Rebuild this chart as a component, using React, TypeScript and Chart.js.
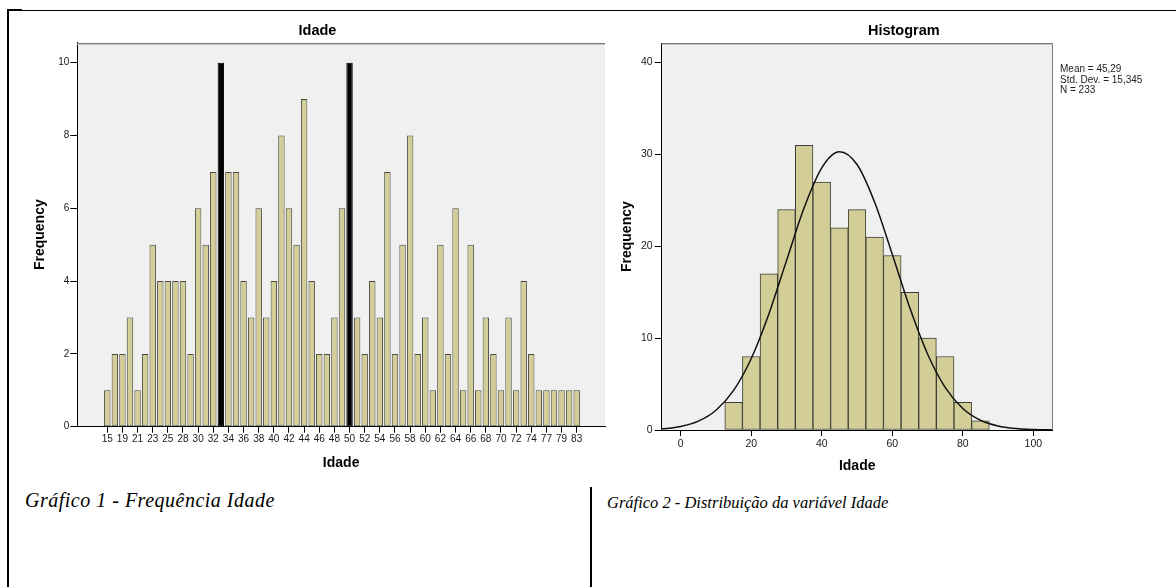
import React, { useEffect, useRef } from "react";
import { Chart, registerables } from "chart.js";

Chart.register(...registerables);

// ---------- Data: Gráfico 1 (frequency of each age) ----------
const ages = [
  "15", "17", "19", "20", "21", "22", "23", "24", "25", "26",
  "28", "29", "30", "31", "32", "33", "34", "35", "36", "37",
  "38", "39", "40", "41", "42", "43", "44", "45", "46", "47",
  "48", "49", "50", "51", "52", "53", "54", "55", "56", "57",
  "58", "59", "60", "61", "62", "63", "64", "65", "66", "67",
  "68", "69", "70", "71", "72", "73", "74", "76", "77", "78",
  "79", "81", "83",
];
const frequencies = [
  1, 2, 2, 3, 1, 2, 5, 4, 4, 4,
  4, 2, 6, 5, 7, 10, 7, 7, 4, 3,
  6, 3, 4, 8, 6, 5, 9, 4, 2, 2,
  3, 6, 10, 3, 2, 4, 3, 7, 2, 5,
  8, 2, 3, 1, 5, 2, 6, 1, 5, 1,
  3, 2, 1, 3, 1, 4, 2, 1, 1, 1,
  1, 1, 1,
];
const highlightedAges = ["33", "50"];
const ageTickLabels = [
  "15", "19", "21", "23", "25", "28", "30", "32", "34", "36", "38", "40",
  "42", "44", "46", "48", "50", "52", "54", "56", "58", "60", "62", "64",
  "66", "68", "70", "72", "74", "77", "79", "83",
];
const freqTicks = [0, 2, 4, 6, 8, 10];

// ---------- Data: Gráfico 2 (histogram + normal curve) ----------
const binCenters = [15, 20, 25, 30, 35, 40, 45, 50, 55, 60, 65, 70, 75, 80, 85];
const binCounts = [3, 8, 17, 24, 31, 27, 22, 24, 21, 19, 15, 10, 8, 3, 1];
const curveX = [
  -10, -5, 0, 5, 10, 15, 20, 25, 30, 35, 40, 45, 50, 55, 60, 65, 70, 75, 80,
  85, 90, 95, 100, 105, 110,
];
const curveY = [
  0.046, 0.141, 0.389, 0.965, 2.152, 4.317, 7.789, 12.64, 18.44, 24.19, 28.54,
  30.28, 28.9, 24.79, 19.13, 13.27, 8.28, 4.65, 2.345, 1.064, 0.434, 0.159,
  0.053, 0.016, 0.004,
];
const histXTicks = [0, 20, 40, 60, 80, 100];
const histYTicks = [0, 10, 20, 30, 40];
const statLines = ["Mean = 45,29", "Std. Dev. = 15,345", "N = 233"];

const SANS = "'Liberation Sans', Arial, sans-serif";
const TAN = "#d3ce97";
const BAR_EDGE = "#4a4a40";
const TEXT = "#1a1a1a";

const plotFrame = {
  id: "plotFrame",
  beforeDraw(chart: any, _a: any, opts: any) {
    const { ctx, chartArea: a } = chart;
    ctx.save();
    ctx.fillStyle = opts.color;
    ctx.fillRect(a.left, a.top, a.right - a.left, a.bottom - a.top);
    ctx.restore();
  },
  afterDraw(chart: any, _a: any, opts: any) {
    const { ctx, chartArea: a } = chart;
    ctx.save();
    ctx.strokeStyle = opts.frame;
    ctx.lineWidth = 1;
    ctx.beginPath();
    ctx.moveTo(a.left, Math.round(a.top) + 0.5);
    ctx.lineTo(a.right, Math.round(a.top) + 0.5);
    if (opts.right) {
      ctx.moveTo(Math.round(a.right) - 0.5, a.top);
      ctx.lineTo(Math.round(a.right) - 0.5, a.bottom);
    }
    ctx.stroke();
    ctx.strokeStyle = "#c4c4c4";
    ctx.beginPath();
    ctx.moveTo(a.left, Math.round(a.top) + 1.5);
    ctx.lineTo(a.right - (opts.right ? 1 : 0), Math.round(a.top) + 1.5);
    ctx.stroke();
    ctx.restore();
  },
};

const texts = {
  id: "texts",
  afterDraw(chart: any, _a: any, opts: any) {
    const ctx = chart.ctx;
    const items = opts.items || [];
    for (let i = 0; i < items.length; i++) {
      const it = items[i];
      ctx.save();
      ctx.font = it.font;
      ctx.fillStyle = it.color || "#000";
      ctx.textAlign = it.align || "center";
      ctx.textBaseline = "middle";
      ctx.fillText(it.text, it.x, it.y);
      ctx.restore();
    }
  },
};

function FrequencyChart() {
  const ref = useRef<HTMLCanvasElement | null>(null);
  useEffect(() => {
    if (!ref.current) return;
    const chart = new Chart(ref.current, {
      type: "bar",
      data: {
        datasets: [
          {
            data: ages.map((a, i) => ({ x: i, y: frequencies[i] })),
            backgroundColor: ages.map((a) => (highlightedAges.includes(a) ? "#000" : TAN)),
            borderColor: ages.map((a) => (highlightedAges.includes(a) ? "#000" : BAR_EDGE)),
            borderWidth: 1,
            borderSkipped: false,
            barPercentage: 0.85,
            categoryPercentage: 1,
          } as any,
        ],
      },
      options: {
        responsive: false,
        animation: false,
        events: [],
        layout: { padding: { left: 31.6, top: 42.7, right: 35, bottom: 8.6 } },
        plugins: {
          legend: { display: false },
          tooltip: { enabled: false },
          plotFrame: { color: "#f0f0f0", frame: "#7c7c7c", right: false },
          texts: {
            items: [
              { text: "Idade", x: 317.5, y: 30.7, font: `bold 14.5px ${SANS}` },
            ],
          },
        } as any,
        scales: {
          x: {
            type: "linear",
            offset: false,
            min: -3.96,
            max: 65.74,
            afterBuildTicks: (s: any) => {
              s.ticks = ageTickLabels.map((l) => ({ value: ages.indexOf(l) }));
            },
            afterFit: (s: any) => {
              s.height = 44.7;
            },
            ticks: {
              autoSkip: false,
              maxRotation: 0,
              minRotation: 0,
              padding: 1,
              color: TEXT,
              font: { family: SANS, size: 10 },
              callback: (v: any) => ages[v],
            },
            grid: { drawOnChartArea: false, drawTicks: true, tickLength: 6, tickColor: "#000", offset: false },
            border: { display: true, color: "#000", width: 1 },
            title: {
              display: true,
              text: "Idade",
              color: "#000",
              font: { family: SANS, size: 14, weight: "bold" },
              padding: { top: 0, bottom: 0 },
            },
          },
          y: {
            min: 0,
            max: 10.55,
            afterBuildTicks: (s: any) => {
              s.ticks = freqTicks.map((v) => ({ value: v }));
            },
            afterFit: (s: any) => {
              s.width = 45.7;
            },
            ticks: { padding: 1, color: TEXT, font: { family: SANS, size: 10 } },
            grid: { drawOnChartArea: false, drawTicks: true, tickLength: 7, tickColor: "#000" },
            border: { display: true, color: "#000", width: 1 },
            title: {
              display: true,
              text: "Frequency",
              color: "#000",
              font: { family: SANS, size: 14, weight: "bold" },
              padding: { top: 0, bottom: 0 },
            },
          },
        } as any,
      },
      plugins: [plotFrame, texts],
    } as any);
    return () => chart.destroy();
  }, []);
  return (
    <canvas
      ref={ref}
      width={640}
      height={480}
      style={{ position: "absolute", left: 0, top: 0, width: 640, height: 480 }}
    />
  );
}

function HistogramChart() {
  const ref = useRef<HTMLCanvasElement | null>(null);
  useEffect(() => {
    if (!ref.current) return;
    const chart = new Chart(ref.current, {
      type: "bar",
      data: {
        datasets: [
          {
            type: "line",
            data: curveX.map((x, i) => ({ x, y: curveY[i] })),
            borderColor: "#111",
            borderWidth: 1.5,
            pointRadius: 0,
            fill: false,
            cubicInterpolationMode: "monotone",
            order: 0,
          },
          {
            type: "bar",
            data: binCenters.map((x, i) => ({ x, y: binCounts[i] })),
            backgroundColor: TAN,
            borderColor: "#3e3e38",
            borderWidth: 1,
            borderSkipped: false,
            barPercentage: 1,
            categoryPercentage: 1,
            order: 1,
          },
        ] as any,
      },
      options: {
        responsive: false,
        animation: false,
        events: [],
        layout: { padding: { left: 19.1, top: 43.3, right: 123.3, bottom: 5.6 } },
        plugins: {
          legend: { display: false },
          tooltip: { enabled: false },
          plotFrame: { color: "#f0f0f0", frame: "#7c7c7c", right: true },
          texts: {
            items: [
              { text: "Histogram", x: 303.8, y: 31, font: `bold 14.5px ${SANS}` },
              { text: statLines[0], x: 460, y: 69.3, align: "left", font: `10px ${SANS}`, color: "#222" },
              { text: statLines[1], x: 460, y: 79.8, align: "left", font: `10px ${SANS}`, color: "#222" },
              { text: statLines[2], x: 460, y: 90.3, align: "left", font: `10px ${SANS}`, color: "#222" },
            ],
          },
        } as any,
        scales: {
          x: {
            type: "linear",
            offset: false,
            min: -5.4,
            max: 105.5,
            afterBuildTicks: (s: any) => {
              s.ticks = histXTicks.map((v) => ({ value: v }));
            },
            afterFit: (s: any) => {
              s.height = 44.4;
            },
            ticks: {
              autoSkip: false,
              maxRotation: 0,
              padding: 2,
              color: TEXT,
              font: { family: SANS, size: 10.5 },
            },
            grid: { drawOnChartArea: false, drawTicks: true, tickLength: 6, tickColor: "#000", offset: false },
            border: { display: true, color: "#000", width: 1 },
            title: {
              display: true,
              text: "Idade",
              color: "#000",
              font: { family: SANS, size: 14, weight: "bold" },
              padding: { top: 0, bottom: 0 },
            },
          },
          y: {
            min: 0,
            max: 42.1,
            afterBuildTicks: (s: any) => {
              s.ticks = histYTicks.map((v) => ({ value: v }));
            },
            afterFit: (s: any) => {
              s.width = 42.6;
            },
            ticks: { padding: 2, color: TEXT, font: { family: SANS, size: 10.5 } },
            grid: { drawOnChartArea: false, drawTicks: true, tickLength: 7, tickColor: "#000" },
            border: { display: true, color: "#000", width: 1 },
            title: {
              display: true,
              text: "Frequency",
              color: "#000",
              font: { family: SANS, size: 14, weight: "bold" },
              padding: { top: 0, bottom: 0 },
            },
          },
        } as any,
      },
      plugins: [plotFrame, texts],
    } as any);
    return () => chart.destroy();
  }, []);
  return (
    <canvas
      ref={ref}
      width={576}
      height={480}
      style={{ position: "absolute", left: 600, top: 0, width: 576, height: 480 }}
    />
  );
}

const captionStyle: React.CSSProperties = {
  position: "absolute",
  fontFamily: "'Liberation Serif', 'Times New Roman', serif",
  fontStyle: "italic",
  color: "#000",
  whiteSpace: "nowrap",
};

export default function App() {
  return (
    <div
      style={{
        position: "absolute",
        left: 0,
        top: 0,
        width: 1176,
        height: 587,
        background: "#fff",
        overflow: "hidden",
      }}
    >
      <FrequencyChart />
      <HistogramChart />
      {/* document frame */}
      <div style={{ position: "absolute", left: 8, top: 10, width: 1168, height: 1, background: "#000" }} />
      <div style={{ position: "absolute", left: 7, top: 9, width: 15, height: 2, background: "#000" }} />
      <div style={{ position: "absolute", left: 7, top: 9, width: 2, height: 578, background: "#000" }} />
      <div style={{ position: "absolute", left: 590, top: 487, width: 2, height: 100, background: "#000" }} />
      <div
        style={{
          ...captionStyle,
          left: 25,
          top: 489.5,
          fontSize: 20,
          lineHeight: "20px",
          letterSpacing: 0.5,
        }}
      >
        Gráfico 1 - Frequência Idade
      </div>
      <div
        style={{
          ...captionStyle,
          left: 607,
          top: 495,
          fontSize: 16.5,
          lineHeight: "16.5px",
        }}
      >
        Gráfico 2 - Distribuição da variável Idade
      </div>
    </div>
  );
}
